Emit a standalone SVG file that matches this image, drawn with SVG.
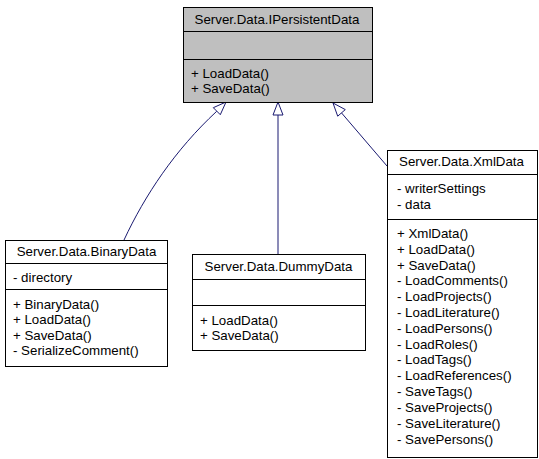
<svg xmlns="http://www.w3.org/2000/svg" width="539" height="459" viewBox="0 0 539 459">
<defs>
<style>
.box{fill:#ffffff;stroke:#000000;stroke-width:1}
.gray{fill:#bfbfbf;stroke:#000000;stroke-width:1}
.sep{stroke:#000000;stroke-width:1}
text{font-family:"Liberation Sans",Arial,Helvetica,sans-serif;font-size:13.3px;fill:#000000}
.t{text-anchor:middle}
.edge{fill:none;stroke:#191970;stroke-width:1}
.head{fill:#ffffff;stroke:#191970;stroke-width:1}
</style>
</defs>
<rect x="0" y="0" width="539" height="459" fill="#ffffff"/>
<g id="edges">
<path class="edge" d="M124,240 C145,195 175,150 216.8,111.2"/>
<polygon class="head" points="226,102 213.3,107.7 220.3,114.7"/>
<path class="edge" d="M278,254 L278,115"/>
<polygon class="head" points="278,102 273,115 283,115"/>
<path class="edge" d="M387,166 L341.5,112.9"/>
<polygon class="head" points="333,103 345.3,109.6 337.7,116.2"/>
</g>
<g id="IPersistentData">
<rect class="gray" x="183.5" y="7.5" width="189" height="95"/>
<line class="sep" x1="183.5" y1="31.5" x2="372.5" y2="31.5"/>
<line class="sep" x1="183.5" y1="59.5" x2="372.5" y2="59.5"/>
<text class="t" x="277" y="24">Server.Data.IPersistentData</text>
<text x="191" y="77.5">+ LoadData()</text>
<text x="191" y="92.5">+ SaveData()</text>
</g>
<g id="BinaryData">
<rect class="box" x="5.5" y="240.5" width="162" height="126"/>
<line class="sep" x1="5.5" y1="263.5" x2="167.5" y2="263.5"/>
<line class="sep" x1="5.5" y1="289.5" x2="167.5" y2="289.5"/>
<text class="t" x="86.5" y="256">Server.Data.BinaryData</text>
<text x="13" y="282">- directory</text>
<text x="13" y="308.5">+ BinaryData()</text>
<text x="13" y="324">+ LoadData()</text>
<text x="13" y="339.5">+ SaveData()</text>
<text x="13" y="355">- SerializeComment()</text>
</g>
<g id="DummyData">
<rect class="box" x="192.5" y="254.5" width="173" height="96"/>
<line class="sep" x1="192.5" y1="279.5" x2="365.5" y2="279.5"/>
<line class="sep" x1="192.5" y1="305.5" x2="365.5" y2="305.5"/>
<text class="t" x="278.5" y="271">Server.Data.DummyData</text>
<text x="200" y="325">+ LoadData()</text>
<text x="200" y="340">+ SaveData()</text>
</g>
<g id="XmlData">
<rect class="box" x="387.5" y="150.5" width="150" height="307"/>
<line class="sep" x1="387.5" y1="174.5" x2="537.5" y2="174.5"/>
<line class="sep" x1="387.5" y1="219.5" x2="537.5" y2="219.5"/>
<text class="t" x="461.5" y="166">Server.Data.XmlData</text>
<text x="397" y="192.5">- writerSettings</text>
<text x="397" y="208.5">- data</text>
<text x="397" y="238">+ XmlData()</text>
<text x="397" y="253.8">+ LoadData()</text>
<text x="397" y="269.6">+ SaveData()</text>
<text x="397" y="285.4">- LoadComments()</text>
<text x="397" y="301.2">- LoadProjects()</text>
<text x="397" y="317">- LoadLiterature()</text>
<text x="397" y="332.8">- LoadPersons()</text>
<text x="397" y="348.6">- LoadRoles()</text>
<text x="397" y="364.4">- LoadTags()</text>
<text x="397" y="380.2">- LoadReferences()</text>
<text x="397" y="396">- SaveTags()</text>
<text x="397" y="411.8">- SaveProjects()</text>
<text x="397" y="427.6">- SaveLiterature()</text>
<text x="397" y="443.6">- SavePersons()</text>
</g>
</svg>
